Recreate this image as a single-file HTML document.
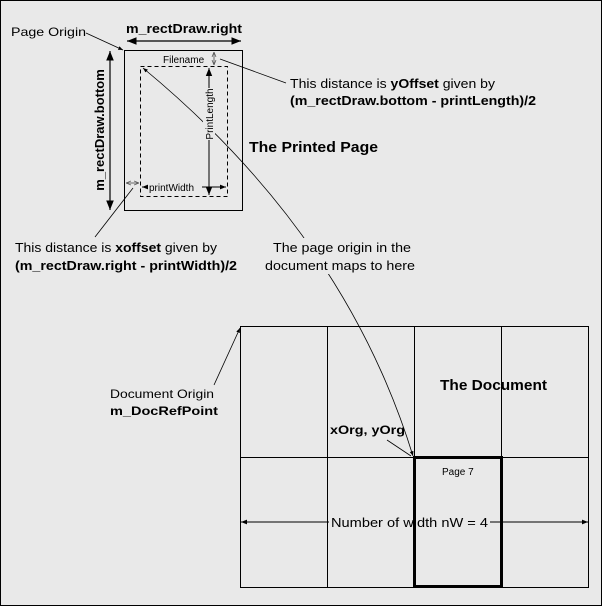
<!DOCTYPE html>
<html><head><style>body{margin:0;background:#e9e9e9}svg{display:block}text{font-family:"Liberation Sans",sans-serif;fill:#000}</style></head><body>
<svg width="602" height="606" viewBox="0 0 602 606" xmlns="http://www.w3.org/2000/svg">
<defs>
<marker id="a" viewBox="0 0 10 10" refX="10" refY="5" markerWidth="8" markerHeight="8" orient="auto-start-reverse"><path d="M0,1 L10,5 L0,9 z" fill="#000"/></marker>
<marker id="s" viewBox="0 0 10 10" refX="10" refY="5" markerWidth="6" markerHeight="6" orient="auto-start-reverse"><path d="M0,1 L10,5 L0,9 z" fill="#000"/></marker>
<marker id="o" viewBox="0 0 10 10" refX="10" refY="5" markerWidth="5" markerHeight="5" orient="auto-start-reverse"><path d="M0,1 L10,5 L0,9" fill="none" stroke="#555" stroke-width="1.5"/></marker>
</defs>
<rect x="0.5" y="0.5" width="601" height="605" fill="#e9e9e9" stroke="#000"/>
<rect x="124.5" y="50.5" width="118" height="160" fill="none" stroke="#000"/>
<rect x="140.5" y="66.5" width="87" height="130" fill="none" stroke="#000" stroke-dasharray="4,3"/>
<path d="M143,68 Q345,235 413,456" fill="none" stroke="#000" stroke-width="0.8" marker-start="url(#s)" marker-end="url(#s)"/>
<rect x="265" y="238" width="152" height="36" fill="#e9e9e9"/>
<line x1="127" y1="41" x2="241" y2="41" stroke="#000" stroke-width="1.2" marker-start="url(#a)" marker-end="url(#a)"/>
<text x="126" y="33" font-size="13" font-weight="bold" textLength="116" lengthAdjust="spacingAndGlyphs">m_rectDraw.right</text>
<line x1="110" y1="51" x2="110" y2="210" stroke="#000" stroke-width="1.2" marker-start="url(#a)" marker-end="url(#a)"/>
<text transform="translate(104,130) rotate(-90)" font-size="13" font-weight="bold" text-anchor="middle">m_rectDraw.bottom</text>
<text x="11" y="36" font-size="12" textLength="75" lengthAdjust="spacingAndGlyphs">Page Origin</text>
<line x1="86" y1="33" x2="123" y2="50" stroke="#000" stroke-width="0.8" marker-end="url(#s)"/>
<text x="163" y="63" font-size="10">Filename</text>
<line x1="214" y1="52" x2="214" y2="65" stroke="#666" stroke-width="1" marker-start="url(#o)" marker-end="url(#o)"/>
<line x1="220" y1="59" x2="286" y2="83" stroke="#000" stroke-width="0.8"/>
<line x1="209" y1="68" x2="209" y2="195" stroke="#000" stroke-width="1" marker-start="url(#a)" marker-end="url(#a)"/>
<rect x="203" y="88" width="12" height="52" fill="#e9e9e9"/>
<text transform="translate(213,114) rotate(-90)" font-size="10" text-anchor="middle">PrintLength</text>
<line x1="142" y1="187" x2="226" y2="187" stroke="#000" stroke-width="1" marker-start="url(#s)" marker-end="url(#s)"/>
<rect x="148" y="180" width="54" height="12" fill="#e9e9e9"/>
<text x="149" y="191" font-size="10">printWidth</text>
<line x1="126" y1="183" x2="139" y2="183" stroke="#666" stroke-width="1" marker-start="url(#o)" marker-end="url(#o)"/>
<line x1="133" y1="188" x2="95" y2="237" stroke="#000" stroke-width="0.8"/>
<text x="290" y="88" font-size="13" textLength="205" lengthAdjust="spacingAndGlyphs">This distance is <tspan font-weight="bold">yOffset</tspan> given by</text>
<text x="290" y="105" font-size="13" font-weight="bold" textLength="246" lengthAdjust="spacingAndGlyphs">(m_rectDraw.bottom - printLength)/2</text>
<text x="249" y="152" font-size="15" font-weight="bold" textLength="129" lengthAdjust="spacingAndGlyphs">The Printed Page</text>
<text x="15" y="252" font-size="13" textLength="202" lengthAdjust="spacingAndGlyphs">This distance is <tspan font-weight="bold">xoffset</tspan> given by</text>
<text x="15" y="270" font-size="13" font-weight="bold" textLength="222" lengthAdjust="spacingAndGlyphs">(m_rectDraw.right - printWidth)/2</text>
<text x="273" y="252" font-size="13" textLength="138" lengthAdjust="spacingAndGlyphs">The page origin in the</text>
<text x="265" y="270" font-size="13" textLength="150" lengthAdjust="spacingAndGlyphs">document maps to here</text>
<rect x="240.5" y="326.5" width="348" height="261" fill="none" stroke="#000"/>
<line x1="327.5" y1="326" x2="327.5" y2="587" stroke="#000"/>
<line x1="414.5" y1="326" x2="414.5" y2="587" stroke="#000"/>
<line x1="501.5" y1="326" x2="501.5" y2="587" stroke="#000"/>
<line x1="240" y1="457.5" x2="588" y2="457.5" stroke="#000"/>
<rect x="414.5" y="457.5" width="87" height="129" fill="none" stroke="#000" stroke-width="3"/>
<text x="442" y="475" font-size="10">Page 7</text>
<text x="440" y="390" font-size="15" font-weight="bold" textLength="107" lengthAdjust="spacingAndGlyphs">The Document</text>
<text x="330" y="434" font-size="12" font-weight="bold" textLength="75" lengthAdjust="spacingAndGlyphs">xOrg, yOrg</text>
<line x1="387" y1="440" x2="411" y2="456" stroke="#000" stroke-width="0.8"/>
<line x1="241" y1="522" x2="588" y2="522" stroke="#000" stroke-width="1" marker-start="url(#s)" marker-end="url(#s)"/>
<rect x="329" y="512" width="161" height="18" fill="#e9e9e9"/>
<line x1="414.5" y1="512" x2="414.5" y2="530" stroke="#000" stroke-width="3"/>
<text x="331" y="527" font-size="13" textLength="157" lengthAdjust="spacingAndGlyphs">Number of width nW = 4</text>
<text x="110" y="398" font-size="12" textLength="104" lengthAdjust="spacingAndGlyphs">Document Origin</text>
<text x="110" y="415" font-size="12" font-weight="bold" textLength="108" lengthAdjust="spacingAndGlyphs">m_DocRefPoint</text>
<line x1="214" y1="385" x2="240" y2="328" stroke="#000" stroke-width="0.8" marker-end="url(#s)"/>
</svg>
</body></html>
